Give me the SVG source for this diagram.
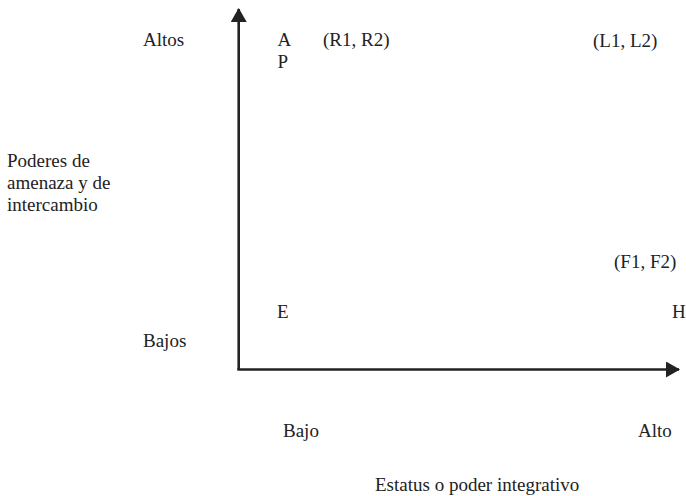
<svg xmlns="http://www.w3.org/2000/svg" width="686" height="496" viewBox="0 0 686 496">
<style>
.t text{font-size:19px;fill:#222}
.ax{stroke:#222;stroke-width:2.6;fill:none}
</style>
<defs>
<marker id="ah" viewBox="0 0 14 16" refX="13" refY="8" markerWidth="14" markerHeight="16" markerUnits="userSpaceOnUse" orient="auto">
<path d="M0,0 L14,8 L0,16 Z" fill="#222"/>
</marker>
</defs>
<rect width="686" height="496" fill="#fff"/>
<g id="connectors">
<line class="ax" x1="238.7" y1="370" x2="238.7" y2="9" marker-end="url(#ah)"/>
<line class="ax" x1="237.4" y1="369.5" x2="679" y2="369.5" marker-end="url(#ah)"/>
</g>
<g class="t" font-family="Liberation Serif, Times New Roman, DejaVu Serif, serif">
<g id="altos"><text x="143" y="46">Altos</text></g>
<g id="bajos"><text x="143" y="347">Bajos</text></g>
<g id="y-title"><text x="7" y="167">Poderes de</text><text x="7" y="189">amenaza y de</text><text x="7" y="211">intercambio</text></g>
<g id="A"><text x="277.5" y="46">A</text></g>
<g id="P"><text x="277.5" y="68">P</text></g>
<g id="R"><text x="323" y="46">(R1, R2)</text></g>
<g id="L"><text x="593" y="47">(L1, L2)</text></g>
<g id="F"><text x="614" y="268">(F1, F2)</text></g>
<g id="E"><text x="277" y="318">E</text></g>
<g id="H"><text x="672" y="318">H</text></g>
<g id="bajo"><text x="283" y="437">Bajo</text></g>
<g id="alto"><text x="638" y="437">Alto</text></g>
<g id="x-title"><text x="375" y="491">Estatus o poder integrativo</text></g>
</g>
</svg>
